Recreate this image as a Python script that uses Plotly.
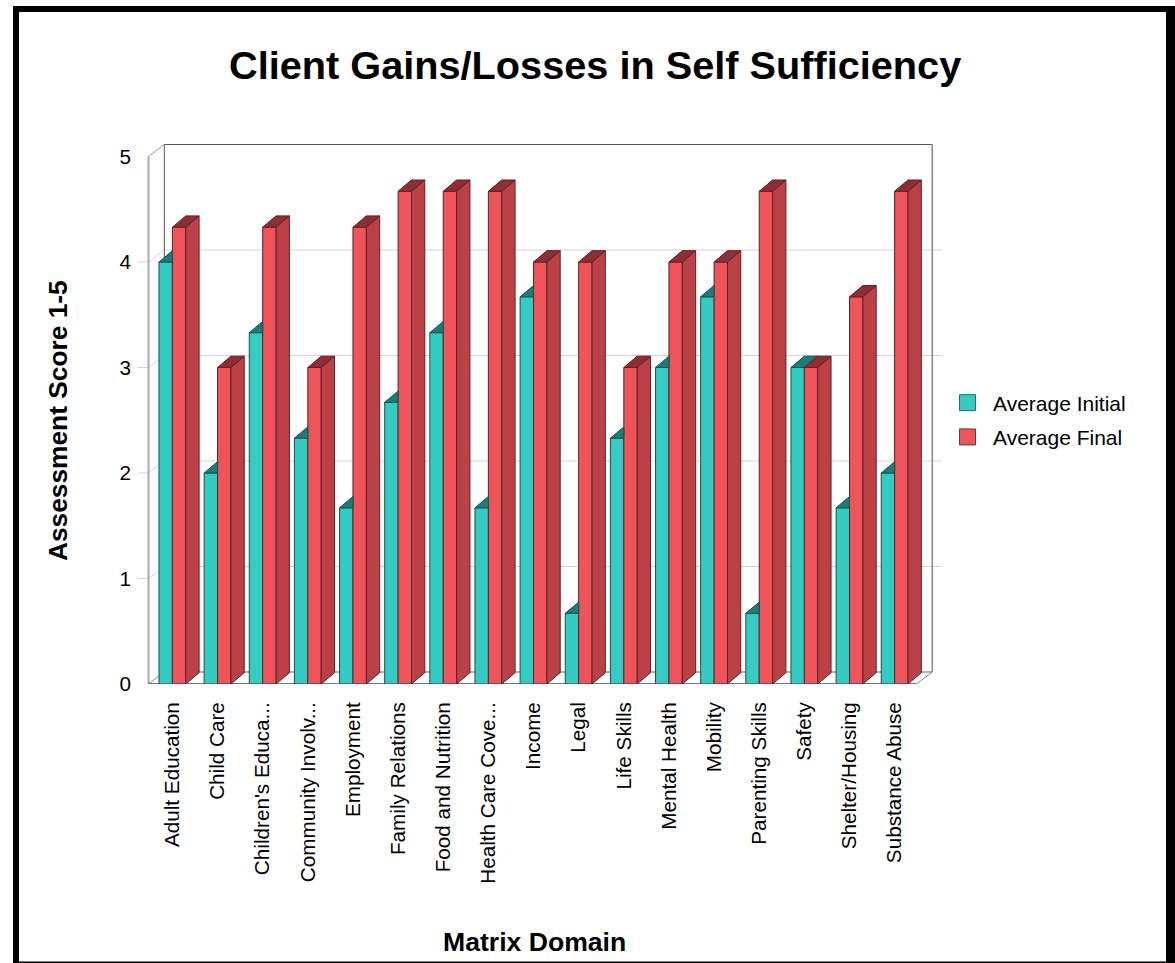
import plotly.graph_objects as go

categories = ["Adult Education", "Child Care", "Children's Educa...", "Community Involv...",
              "Employment", "Family Relations", "Food and Nutrition", "Health Care Cove...",
              "Income", "Legal", "Life Skills", "Mental Health", "Mobility",
              "Parenting Skills", "Safety", "Shelter/Housing", "Substance Abuse"]
avg_initial = [4, 2, 3.33, 2.33, 1.67, 2.67, 3.33, 1.67, 3.67, 0.67, 2.33, 3, 3.67, 0.67, 3, 1.67, 2]
avg_final = [4.33, 3, 4.33, 3, 4.33, 4.67, 4.67, 4.67, 4, 4, 3, 4, 4, 4.67, 3, 3.67, 4.67]
y_ticks = [0, 1, 2, 3, 4, 5]

W, H = 1175, 963
L, R, T, B = 138, 945, 144, 684      # plot area in px
PITCH, UNIT = 45.14, 105.5           # px per category, px per score unit
X0 = 172.4                           # px of category 0 centre
xr = [(L - X0) / PITCH, (R - X0) / PITCH]
yr = [0, (B - T) / UNIT]
BW = 13.4 / PITCH
BD, BH = 13.3 / PITCH, 11.3 / UNIT   # bar depth projection
WD, WH = 15.8 / PITCH, 12.0 / UNIT   # wall depth projection
FL = (148.5 - X0) / PITCH            # front-left of floor
FR = (916.5 - X0) / PITCH            # front-right of floor

TEAL, TEAL_TOP, TEAL_EDGE = "#33CCC2", "#1F7B78", "#17504E"
RED, RED_SIDE, RED_TOP, RED_EDGE = "#F05359", "#BC4146", "#8C2E35", "#5A2428"
GRID = "#D2D2DE"

fig = go.Figure()
n = len(categories)
xs = list(range(n))

fig.add_bar(x=xs, y=avg_initial, width=BW, offset=-BW, marker=dict(color=TEAL, line=dict(color=TEAL_EDGE, width=1)),
            name="Average Initial", showlegend=False, hoverinfo="skip")
fig.add_bar(x=xs, y=avg_final, width=BW, offset=0, marker=dict(color=RED, line=dict(color=RED_EDGE, width=1)),
            name="Average Final", showlegend=False, hoverinfo="skip")

def faces_top(values, left, clip=None):
    px, py = [], []
    for i, v in enumerate(values):
        x0 = i + left
        x1 = x0 + BW
        if clip is not None and clip[i] > v:
            px += [x0, x1, x1, x0 + BD, x0, None]
            py += [v, v, v + BH, v + BH, v, None]
        else:
            px += [x0, x1, x1 + BD, x0 + BD, x0, None]
            py += [v, v, v + BH, v + BH, v, None]
    return px, py

def faces_side(values, left):
    px, py = [], []
    for i, v in enumerate(values):
        x1 = i + left + BW
        px += [x1, x1 + BD, x1 + BD, x1, x1, None]
        py += [v, v + BH, BH, 0, v, None]
    return px, py

def poly(pts, fill, edge):
    fig.add_scatter(x=pts[0], y=pts[1], mode="lines", fill="toself", fillcolor=fill,
                    line=dict(color=edge, width=1), showlegend=False, hoverinfo="skip")

poly(faces_top(avg_initial, -BW, avg_final), TEAL_TOP, TEAL_EDGE)
poly(faces_side(avg_final, 0), RED_SIDE, RED_EDGE)
poly(faces_top(avg_final, 0), RED_TOP, RED_EDGE)

# legend entries
for name, fill, edge in [("Average Initial", TEAL, "#2A6A68"), ("Average Final", RED, "#6A3A3E")]:
    fig.add_scatter(x=[None], y=[None], mode="markers", name=name, legendgroup=name,
                    marker=dict(symbol="square", size=16, color=fill, line=dict(color=edge, width=1)))

shapes = []
def ln(x0, y0, x1, y1, color, width=1):
    shapes.append(dict(type="line", xref="x", yref="y", x0=x0, y0=y0, x1=x1, y1=y1,
                       line=dict(color=color, width=width), layer="below"))

top = y_ticks[-1]
# gridlines on the back wall, with the connector over the left wall and the stub tick
for v in y_ticks[1:-1]:
    ln(FL + WD, v + WH, (942 - X0) / PITCH, v + WH, GRID)
    ln(FL, v, FL + WD, v + WH, GRID)
    ln((138 - X0) / PITCH, v, FL, v, GRID)
# walls and floor
ln(FL + WD, top + WH, FR + WD, top + WH, "#555555")
ln(FL + WD, WH, FL + WD, top + WH, "#555555")
ln(FR + WD, WH, FR + WD, top + WH, "#888888", 1.5)
ln(FL + WD, WH, FR + WD, WH, "#666666")
ln(FL, 0, FL, top, "#AAAAAA", 2)
ln(FL, top, FL + WD, top + WH, "#999999")
ln(FL, 0, FL + WD, WH, "#888888")
ln(FR, 0, FR + WD, WH, "#888888")
ln(FL, 0, FR, 0, "#777777", 2)

def paper_x(px):
    return (px - L) / (R - L)
def paper_y(py):
    return (B - py) / (B - T)

for x0, y0, x1, y1 in [(13, 6, 19, 963), (13, 6, 1175, 12), (1166, 6, 1175, 963), (13, 961.5, 1175, 963)]:
    shapes.append(dict(type="rect", xref="paper", yref="paper", x0=paper_x(x0), x1=paper_x(x1),
                       y0=paper_y(y0), y1=paper_y(y1), fillcolor="black", line=dict(width=0), layer="above"))

FONT = "Liberation Sans"
annotations = [
    dict(text="<b>Client Gains/Losses in Self Sufficiency</b>", x=paper_x(594.5), y=paper_y(65), xref="paper", yref="paper",
         showarrow=False, xanchor="center", yanchor="middle", font=dict(size=39.7, color="black", family=FONT)),
    dict(text="<b>Matrix Domain</b>", x=paper_x(534), y=paper_y(942), xref="paper", yref="paper",
         showarrow=False, xanchor="center", yanchor="middle", font=dict(size=26.6, color="black", family=FONT)),
    dict(text="<b>Assessment Score 1-5</b>", x=paper_x(58), y=paper_y(421), xref="paper", yref="paper", textangle=-90,
         showarrow=False, xanchor="center", yanchor="middle", font=dict(size=26.3, color="black", family=FONT)),
]

fig.update_layout(
    width=W, height=H, autosize=False,
    margin=dict(l=L, r=W - R, t=T, b=H - B, pad=0),
    paper_bgcolor="white", plot_bgcolor="white",
    font=dict(family=FONT, size=20.7, color="black"),
    barmode="overlay",
    shapes=shapes, annotations=annotations,
    legend=dict(x=paper_x(942), y=paper_y(420), xanchor="left", yanchor="middle", traceorder="grouped",
                tracegroupgap=4, itemwidth=41, font=dict(size=21, color="black", family=FONT),
                bgcolor="rgba(0,0,0,0)"),
)
fig.update_xaxes(range=xr, tickmode="array", tickvals=xs, ticktext=categories, tickangle=-90,
                 showgrid=False, zeroline=False, showline=False, ticks="", ticklabelstandoff=13,
                 tickfont=dict(size=20.7, family=FONT, color="black"))
fig.update_yaxes(range=yr, tickmode="array", tickvals=y_ticks, ticktext=[str(v) for v in y_ticks],
                 showgrid=False, zeroline=False, showline=False, ticks="", ticklabelstandoff=6,
                 tickfont=dict(size=20.7, family=FONT, color="black"))
fig.write_html("out.html", config={"displayModeBar": False},
               post_script="document.body.style.margin='0';document.body.style.overflow='hidden';")
